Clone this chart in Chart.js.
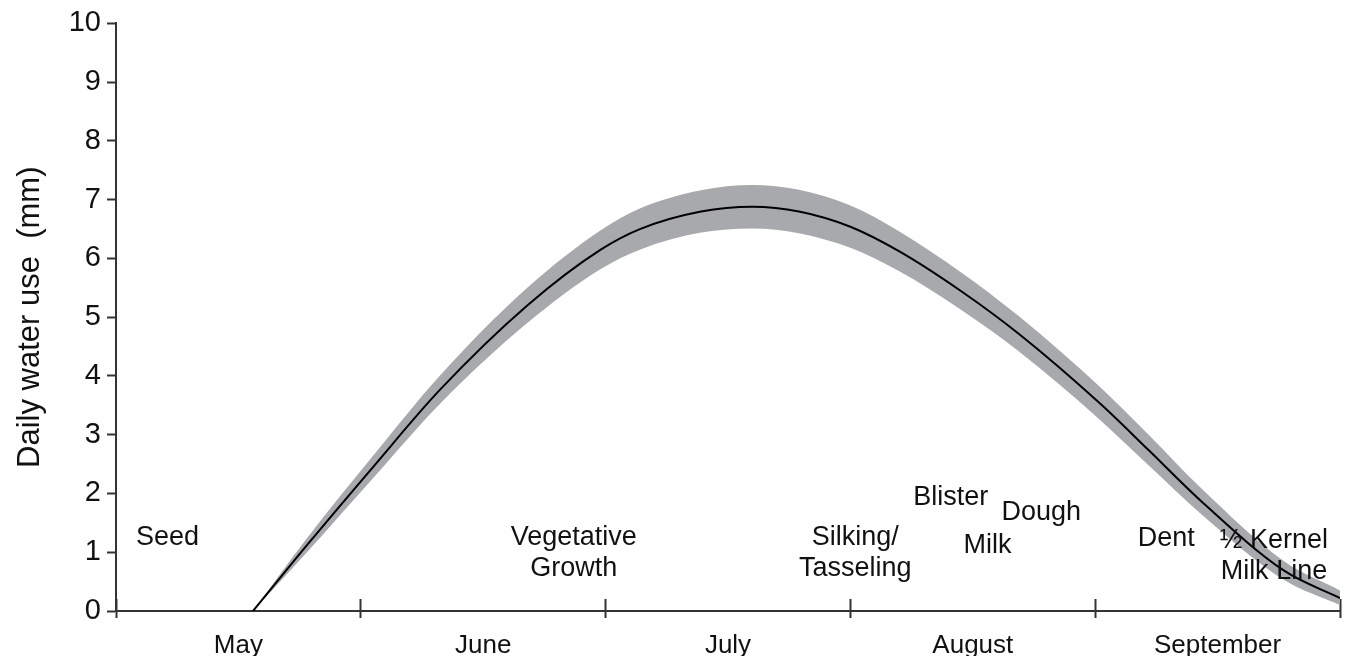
<!DOCTYPE html>
<html>
<head>
<meta charset="utf-8">
<title>Daily water use</title>
<script src="https://cdn.jsdelivr.net/npm/chart.js@4.4.1/dist/chart.umd.min.js"></script>
<style>
  html, body { margin: 0; padding: 0; background: #fff; }
  #wrap { width: 1346px; height: 656px; }
</style>
</head>
<body>
<div id="wrap"><canvas id="waterChart" width="1346" height="656"></canvas></div>
<script>
// months along the season (x runs 0..5, one unit per month)
const months = ["May", "June", "July", "August", "September"];
const yTicks = [0, 1, 2, 3, 4, 5, 6, 7, 8, 9, 10];

// x in month units from the start of May
const seasonX = [0.56, 0.78, 1.05, 1.32, 1.68, 1.98, 2.14, 2.39, 2.6, 2.79, 3.0, 3.2, 3.45, 3.69, 4.02, 4.22, 4.43, 4.77, 5.0];
const meanUse = [0, 1.12, 2.45, 3.75, 5.20, 6.15, 6.50, 6.80, 6.88, 6.80, 6.54, 6.12, 5.45, 4.71, 3.53, 2.73, 1.88, 0.69, 0.22];
const upperUse = [0, 1.24, 2.64, 3.99, 5.50, 6.48, 6.85, 7.16, 7.25, 7.17, 6.90, 6.46, 5.77, 5.01, 3.81, 2.99, 2.10, 0.85, 0.35];
const lowerUse = [0, 1.00, 2.26, 3.51, 4.90, 5.82, 6.15, 6.44, 6.51, 6.43, 6.18, 5.78, 5.13, 4.41, 3.25, 2.47, 1.66, 0.53, 0.10];

// growth stage labels
const stageText = [["Seed"], ["Vegetative", "Growth"], ["Silking/", "Tasseling"], ["Blister"], ["Dough"], ["Milk"], ["Dent"], ["\u00BD Kernel", "Milk Line"]];
const stageX = [0.21, 1.87, 3.02, 3.41, 3.78, 3.56, 4.29, 4.73];
const stageY = [1.25, 1.25, 1.25, 1.93, 1.68, 1.12, 1.24, 1.2];

const FONT = "'Liberation Sans', Arial, Helvetica, sans-serif";
const INK = "#111";
const AXIS = "#333";

const toPts = arr => seasonX.map((x, i) => ({ x: x, y: arr[i] }));

const stagePlugin = {
  id: "stages",
  afterDatasetsDraw(chart) {
    const ctx = chart.ctx;
    const xs = chart.scales.x, ys = chart.scales.y;
    ctx.save();
    ctx.fillStyle = INK;
    ctx.font = "27px " + FONT;
    ctx.textAlign = "center";
    ctx.textBaseline = "middle";
    stageText.forEach((lines, i) => {
      const px = xs.getPixelForValue(stageX[i]);
      const py = ys.getPixelForValue(stageY[i]);
      lines.forEach((t, j) => ctx.fillText(t, px, py + j * 31));
    });
    ctx.restore();
  }
};

new Chart(document.getElementById("waterChart"), {
  type: "line",
  data: {
    datasets: [
      {
        label: "mean",
        data: toPts(meanUse),
        borderColor: "#000",
        borderWidth: 2,
        pointRadius: 0,
        cubicInterpolationMode: "monotone",
        fill: false,
        order: 0
      },
      {
        label: "upper",
        data: toPts(upperUse),
        borderWidth: 0,
        borderColor: "rgba(0,0,0,0)",
        backgroundColor: "#a8a9ac",
        pointRadius: 0,
        cubicInterpolationMode: "monotone",
        fill: "+1",
        order: 1
      },
      {
        label: "lower",
        data: toPts(lowerUse),
        borderWidth: 0,
        borderColor: "rgba(0,0,0,0)",
        pointRadius: 0,
        cubicInterpolationMode: "monotone",
        fill: false,
        order: 2
      }
    ]
  },
  options: {
    responsive: false,
    animation: false,
    layout: { padding: { left: 0, right: 6, top: 21, bottom: 0 } },
    plugins: { legend: { display: false }, tooltip: { enabled: false } },
    scales: {
      x: {
        type: "linear",
        position: "bottom",
        min: 0,
        max: 5,
        ticks: { stepSize: 1, display: false },
        grid: { drawOnChartArea: false, tickLength: -12, tickWidth: 2, tickColor: AXIS },
        border: { color: AXIS, width: 2 },
        afterFit: s => { s.height = 0; }
      },
      xm: {
        type: "category",
        position: "bottom",
        labels: months,
        offset: true,
        ticks: { color: INK, font: { family: FONT, size: 26 }, padding: 12 },
        grid: { offset: true, drawOnChartArea: false, tickLength: 7, tickWidth: 2, tickColor: AXIS },
        border: { color: AXIS, width: 2 },
        afterFit: s => { s.height = 45; }
      },
      y: {
        min: 0,
        max: 10,
        afterBuildTicks: s => { s.ticks = yTicks.map(v => ({ value: v })); },
        ticks: { color: INK, font: { family: FONT, size: 29 }, padding: 6 },
        grid: { drawOnChartArea: false, tickLength: 9, tickWidth: 2, tickColor: AXIS },
        border: { color: AXIS, width: 2 },
        title: {
          display: true,
          text: "Daily water use  (mm)",
          color: INK,
          font: { family: FONT, size: 31 },
          padding: { top: 12, bottom: 0 }
        },
        afterFit: s => { s.width = 116; }
      }
    }
  },
  plugins: [stagePlugin]
});
</script>
</body>
</html>
